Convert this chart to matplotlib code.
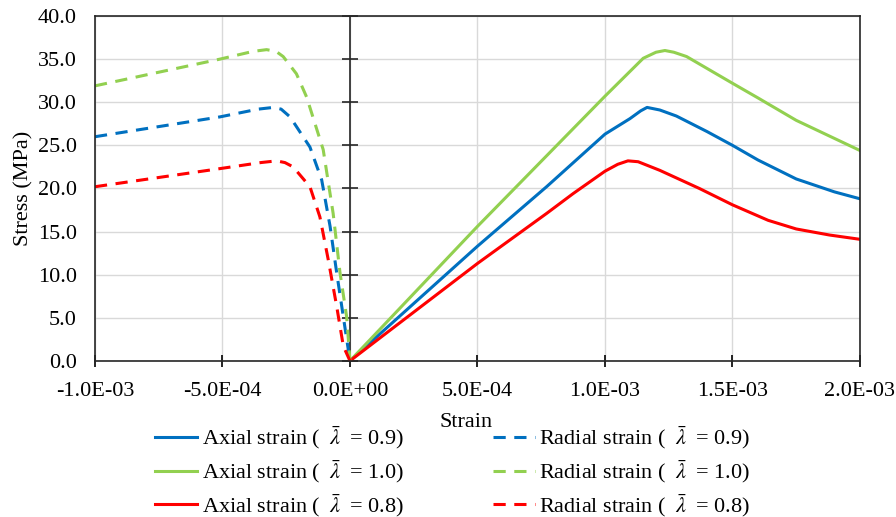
import numpy as np
import matplotlib.pyplot as plt

# axial strain curves (positive strain)
ax_x_09 = [0, 0.5e-3, 0.771e-3, 1.0e-3, 1.098e-3, 1.14e-3, 1.165e-3, 1.215e-3, 1.28e-3, 1.4e-3, 1.5e-3, 1.6e-3, 1.75e-3, 1.9e-3, 2.0e-3]
ax_y_09 = [0, 13.3, 20.2, 26.3, 28.1, 29.0, 29.4, 29.1, 28.4, 26.6, 25.0, 23.3, 21.1, 19.6, 18.8]

ax_x_10 = [0, 0.5e-3, 1.0e-3, 1.15e-3, 1.2e-3, 1.235e-3, 1.27e-3, 1.32e-3, 1.5e-3, 1.6e-3, 1.75e-3, 1.9e-3, 2.0e-3]
ax_y_10 = [0, 15.6, 30.7, 35.1, 35.8, 36.0, 35.8, 35.3, 32.2, 30.5, 27.9, 25.8, 24.4]

ax_x_08 = [0, 0.5e-3, 0.771e-3, 0.875e-3, 1.0e-3, 1.05e-3, 1.09e-3, 1.13e-3, 1.215e-3, 1.37e-3, 1.5e-3, 1.64e-3, 1.75e-3, 1.88e-3, 2.0e-3]
ax_y_08 = [0, 11.3, 17.1, 19.4, 22.0, 22.8, 23.2, 23.1, 22.1, 20.0, 18.1, 16.3, 15.3, 14.6, 14.1]

# radial strain curves (negative strain)
rad_x_09 = [-1.0e-3, -0.51e-3, -0.36e-3, -0.30e-3, -0.27e-3, -0.235e-3, -0.157e-3, -0.111e-3, -0.078e-3, -0.052e-3, -0.026e-3, 0]
rad_y_09 = [26.0, 28.3, 29.2, 29.4, 29.2, 28.3, 24.8, 21.0, 15.6, 10.2, 5.1, 0]

rad_x_10 = [-1.0e-3, -0.51e-3, -0.38e-3, -0.327e-3, -0.29e-3, -0.262e-3, -0.21e-3, -0.17e-3, -0.105e-3, -0.066e-3, -0.039e-3, -0.013e-3, 0]
rad_y_10 = [31.9, 35.0, 35.9, 36.1, 35.9, 35.3, 33.3, 30.6, 24.5, 17.1, 10.2, 5.1, 0]

rad_x_08 = [-1.0e-3, -0.51e-3, -0.35e-3, -0.288e-3, -0.255e-3, -0.223e-3, -0.157e-3, -0.118e-3, -0.085e-3, -0.052e-3, -0.026e-3, 0]
rad_y_08 = [20.2, 22.3, 23.0, 23.2, 23.0, 22.5, 20.2, 16.7, 11.7, 6.3, 1.7, 0]

x_ticks = [-1.0e-3, -5.0e-4, 0.0, 5.0e-4, 1.0e-3, 1.5e-3, 2.0e-3]
x_tick_labels = ['-1.0E-03', '-5.0E-04', '0.0E+00', '5.0E-04', '1.0E-03', '1.5E-03', '2.0E-03']
y_ticks = np.arange(0, 40.1, 5)

blue = '#0070C0'
green = '#92D050'
red = '#FF0000'

plt.rcParams['font.family'] = 'Liberation Serif'
plt.rcParams['mathtext.fontset'] = 'stix'
fs = 16

fig = plt.figure(figsize=(8.96, 5.17), dpi=100)
ax = fig.add_axes([0.106, 0.302, 0.8538, 0.667])

lw = 2.2
dash = (4.0, 2.8)
lam = r'( $\;\bar{\lambda}\;$ = '
ax.plot(ax_x_09, ax_y_09, color=blue, lw=lw, label='Axial strain ' + lam + '0.9)')
ax.plot(ax_x_10, ax_y_10, color=green, lw=lw, label='Axial strain ' + lam + '1.0)')
ax.plot(ax_x_08, ax_y_08, color=red, lw=lw, label='Axial strain ' + lam + '0.8)')
ax.plot(rad_x_09, rad_y_09, color=blue, lw=lw, ls=(0, dash), label='Radial strain ' + lam + '0.9)')
ax.plot(rad_x_10, rad_y_10, color=green, lw=lw, ls=(0, dash), label='Radial strain ' + lam + '1.0)')
ax.plot(rad_x_08, rad_y_08, color=red, lw=lw, ls=(0, dash), label='Radial strain ' + lam + '0.8)')

ax.set_xlim(-1.0e-3, 2.0e-3)
ax.set_ylim(0, 40)
ax.set_xticks(x_ticks)
ax.set_xticklabels(x_tick_labels)
ax.set_yticks(y_ticks)
ax.set_yticklabels(['%.1f' % v for v in y_ticks])
ax.tick_params(axis='x', direction='inout', length=9, width=1.2, labelsize=fs, pad=10.5)
ax.tick_params(axis='y', length=0, labelsize=fs, pad=13)
ax.grid(True, color='#d9d9d9', lw=1)
ax.set_axisbelow(True)
for s in ax.spines.values():
    s.set_color('#262626')
    s.set_linewidth(1.2)

# vertical axis through zero with cross ticks
ax.axvline(0, color='#262626', lw=1.2, zorder=1)
ax.plot([0] * len(y_ticks), y_ticks, ls='none', marker='_', ms=11, mew=1.2, color='#262626', zorder=1, clip_on=False)

ax.set_xlabel('Strain', fontsize=fs)
ax.xaxis.set_label_coords(0.485, -0.150)
ax.set_ylabel('Stress (MPa)', fontsize=fs)
ax.yaxis.set_label_coords(-0.081, 0.5)

fig.legend(loc='upper left', bbox_to_anchor=(0.158, 0.205), ncol=2, frameon=False,
           fontsize=fs, handlelength=1.9, columnspacing=4.0, labelspacing=0.3,
           handletextpad=0.2, borderpad=0.1)

plt.savefig('out.png', dpi=100)
